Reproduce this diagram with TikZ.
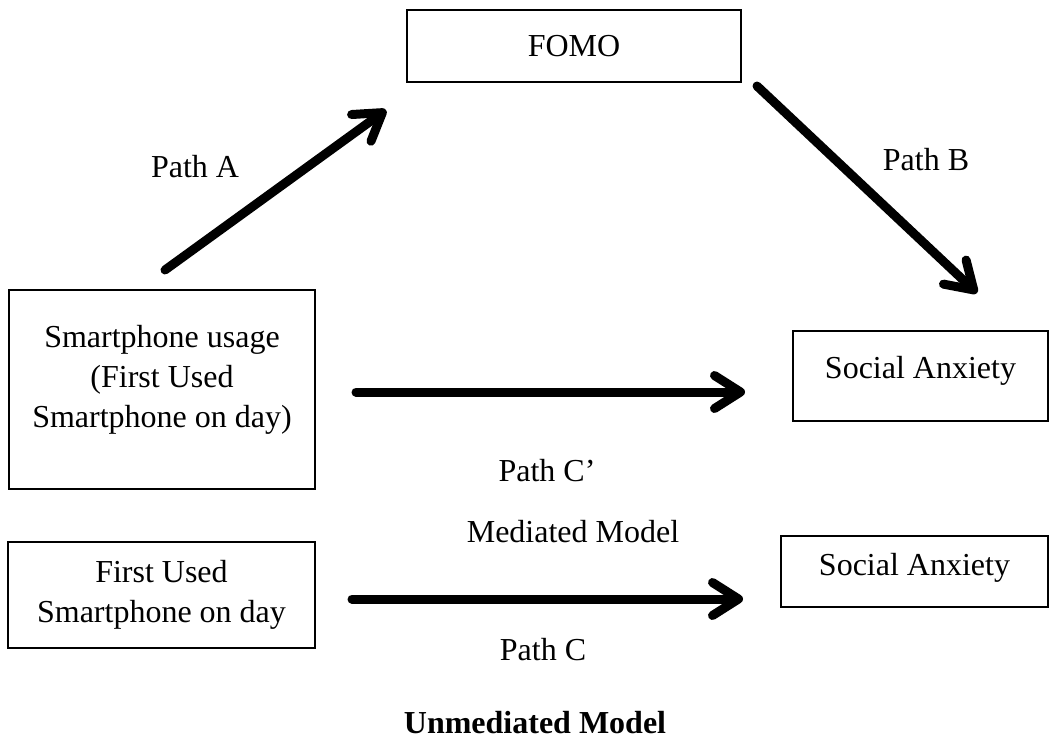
\documentclass[tikz,border=0pt]{standalone}
\usepackage{fontspec}
\setmainfont{Liberation Serif}
\usetikzlibrary{arrows.meta}
\begin{document}
\begin{tikzpicture}[x=1pt,y=-1pt,
  box/.style={draw=black, line width=2pt, inner sep=0pt, align=center,
    font=\fontsize{32}{40}\selectfont},
  lbl/.style={inner sep=0pt, font=\fontsize{32}{40}\selectfont},
  arr/.style={line width=9pt, line cap=round,
    -{Straight Barb[length=26pt,width=33pt,line cap=round,line join=round]}}]
\useasboundingbox (0,0) rectangle (1051,740);
% boxes
\node[box, minimum width=334pt, minimum height=72pt] (fomo) at (574,46) {FOMO};
\node[box, minimum width=255pt, minimum height=90pt, text depth=17pt] (sa1) at (920.5,376) {Social Anxiety};
\node[box, minimum width=306pt, minimum height=199pt] (smart) at (162,389.5)
  {Smartphone usage\\(First Used\\Smartphone on day)\\[-14pt]};
\node[box, minimum width=307pt, minimum height=106pt] (first) at (161.5,595)
  {First Used\\Smartphone on day};
\node[box, minimum width=267pt, minimum height=71pt, text depth=15pt] (sa2) at (914.5,571.5) {Social Anxiety};
% arrow ends
\coordinate (a1) at (165,270);
\coordinate (a2) at (386,110);
\coordinate (b1) at (757,86);
\coordinate (b2) at (977,293);
\coordinate (c1) at (356,392);
\coordinate (c2) at (745,392);
\coordinate (d1) at (352,599);
\coordinate (d2) at (743,599);
\draw[arr] (a1) -- (a2);
\draw[arr] (b1) -- (b2);
\draw[arr] (c1) -- (c2);
\draw[arr] (d1) -- (d2);
% labels
\node[lbl] (pa) at (195,167) {Path A};
\node[lbl] (pb) at (926,160) {Path B};
\node[lbl] (pc1) at (547,471) {Path C’};
\node[lbl] (med) at (573,532) {Mediated Model};
\node[lbl] (pc) at (543,650) {Path C};
\node[lbl, font=\fontsize{32}{40}\selectfont\bfseries] (unmed) at (535,723) {Unmediated Model};
\end{tikzpicture}
\end{document}
